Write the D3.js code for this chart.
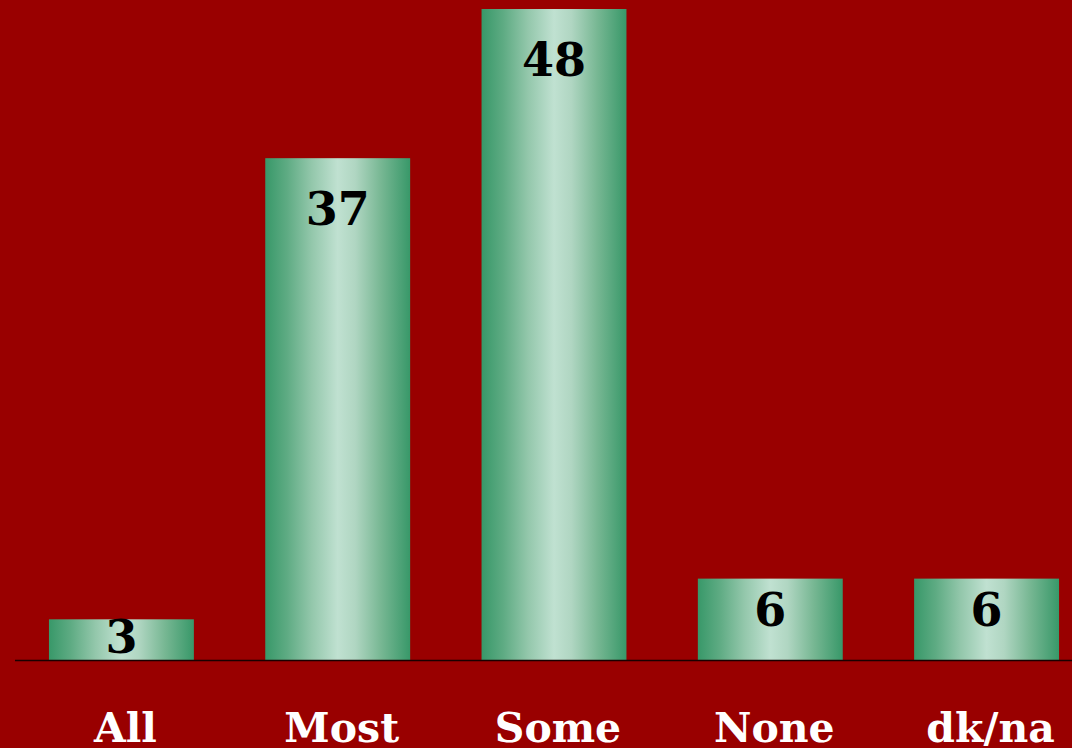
<!DOCTYPE html>
<html>
<head>
<meta charset="utf-8">
<script src="https://cdn.jsdelivr.net/npm/d3@7"></script>
<style>
  html, body { margin: 0; padding: 0; background: #990000; overflow: hidden; }
  text { font-family: "DejaVu Serif", serif; font-weight: bold; }
</style>
</head>
<body>
<div id="chart"></div>
<script>
const categories = ["All", "Most", "Some", "None", "dk/na"];
const values = [3, 37, 48, 6, 6];

const width = 1072, height = 748;
const baseY = 660;

const svg = d3.select("#chart").append("svg")
    .attr("width", width)
    .attr("height", height);

svg.append("rect").attr("width", width).attr("height", height).attr("fill", "#990000");

// horizontal "cylinder" gradient
const grad = svg.append("defs").append("linearGradient")
    .attr("id", "barGrad")
    .attr("x1", "0%").attr("x2", "100%").attr("y1", "0%").attr("y2", "0%");
[[0, "#389869"], [0.15, "#5eab83"], [0.32, "#93c7ab"], [0.5, "#c0e1d1"],
 [0.62, "#b0d6c2"], [0.8, "#77b793"], [1, "#389869"]]
    .forEach(([o, c]) => grad.append("stop").attr("offset", o).attr("stop-color", c));

const x = d3.scaleBand()
    .domain(categories)
    .range([15, 1093])
    .paddingInner(0.33)
    .paddingOuter(0.157);

const y = d3.scaleLinear()
    .domain([0, 48])
    .range([baseY, 9]);

const data = categories.map((c, i) => ({ cat: c, value: values[i] }));

svg.selectAll(".bar").data(data)
    .join("rect")
    .attr("class", "bar")
    .attr("x", d => x(d.cat))
    .attr("y", d => y(d.value))
    .attr("width", x.bandwidth())
    .attr("height", d => baseY - y(d.value))
    .attr("fill", "url(#barGrad)");

// baseline
svg.append("line")
    .attr("x1", 15).attr("x2", width)
    .attr("y1", baseY + 0.5).attr("y2", baseY + 0.5)
    .attr("stroke", "#1a0000")
    .attr("stroke-width", 1.5);

// value labels inside the bars
svg.selectAll(".val").data(data)
    .join("text")
    .attr("class", "val")
    .attr("x", d => x(d.cat) + x.bandwidth() / 2)
    .attr("y", d => {
        const h = baseY - y(d.value);
        return y(d.value) + Math.min(67, 20 + h * 0.34);
    })
    .attr("text-anchor", "middle")
    .attr("font-size", 46)
    .attr("fill", "#000")
    .text(d => d.value);

// category labels
svg.selectAll(".cat").data(categories)
    .join("text")
    .attr("class", "cat")
    .attr("x", d => x(d) + x.bandwidth() / 2 + 4)
    .attr("y", 742)
    .attr("text-anchor", "middle")
    .attr("font-size", 41)
    .attr("fill", "#fff")
    .text(d => d);
</script>
</body>
</html>
